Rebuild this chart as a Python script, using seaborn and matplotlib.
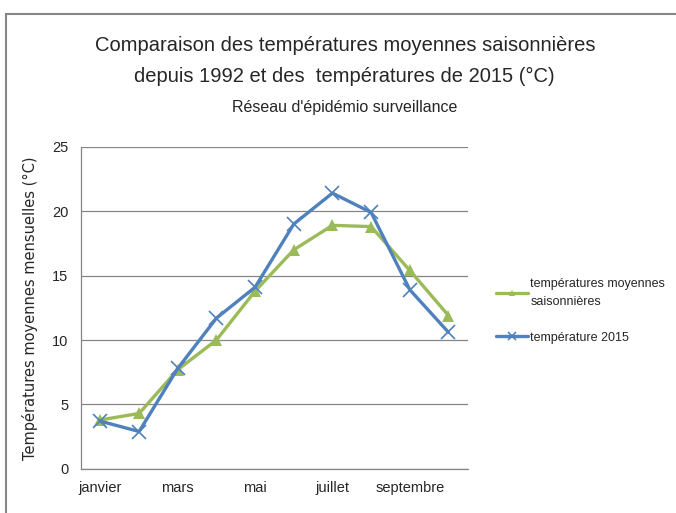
import matplotlib
matplotlib.use('Agg')
from matplotlib import pyplot as plt
from matplotlib.patches import Rectangle
import seaborn as sns

mois = ['janvier', 'février', 'mars', 'avril', 'mai', 'juin',
        'juillet', 'août', 'septembre', 'octobre']
moyennes = [3.8, 4.3, 7.7, 10.0, 13.8, 17.0, 18.9, 18.8, 15.4, 11.9]
temp_2015 = [3.7, 2.9, 7.8, 11.7, 14.1, 19.0, 21.4, 19.9, 13.9, 10.6]
serie_noms = ['températures moyennes\nsaisonnières', 'température 2015']

sns.set_style('white')
plt.rcParams['font.family'] = ['Liberation Sans', 'DejaVu Sans']

fig = plt.figure(figsize=(6.76, 5.13), dpi=100)
ax = fig.add_axes([0.12, 0.086, 0.572, 0.628])

x = list(range(len(mois)))
sns.lineplot(x=x, y=moyennes, color='#9BBB59', marker='^', linewidth=2.4,
             markersize=9, markeredgewidth=0, label=serie_noms[0], ax=ax)
sns.lineplot(x=x, y=temp_2015, color='#4F81BD', marker='x', linewidth=2.4,
             markersize=10, markeredgewidth=1.2, markeredgecolor='#4F81BD',
             label=serie_noms[1], ax=ax)

ax.set_xlim(-0.5, len(mois) - 0.5)
ax.set_ylim(0, 25)
ax.set_yticks([0, 5, 10, 15, 20, 25])
ax.set_xticks(range(0, len(mois), 2))
ax.set_xticklabels(mois[::2])
ax.tick_params(axis='both', length=0, labelsize=10.5, pad=9)
ax.yaxis.grid(True, color='#868686', linewidth=0.9)
for s in ['top', 'right']:
    ax.spines[s].set_visible(False)
for s in ['left', 'bottom']:
    ax.spines[s].set_color('#868686')
    ax.spines[s].set_linewidth(0.9)
ax.set_xlabel('')
ax.set_ylabel('Températures moyennes mensuelles (°C)', family='DejaVu Sans',
              fontsize=10.5, labelpad=10)

leg = ax.legend(loc='center left', bbox_to_anchor=(1.06, 0.49), frameon=False,
                fontsize=9, handlelength=2.6, handletextpad=0.15,
                labelspacing=1.9, markerscale=0.55, borderaxespad=0)
for t in leg.get_texts():
    t.set_linespacing(1.6)

fig.text(0.51, 0.912, 'Comparaison des températures moyennes saisonnières',
         ha='center', va='center', fontsize=14.5)
fig.text(0.51, 0.85, 'depuis 1992 et des  températures de 2015 (°C)',
         ha='center', va='center', fontsize=14.5)
fig.text(0.51, 0.79, "Réseau d'épidémio surveillance",
         ha='center', va='center', fontsize=11.5)

fig.patches.append(Rectangle((6 / 676, -0.05), 1.1, 1 - 14 / 513 + 0.05,
                             transform=fig.transFigure, fill=False,
                             edgecolor='#868686', linewidth=1.5))

fig.savefig('out.png', dpi=100)
